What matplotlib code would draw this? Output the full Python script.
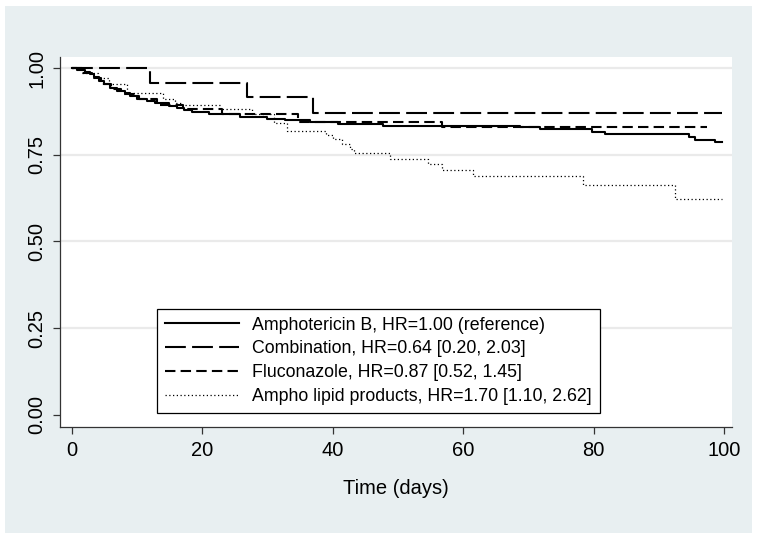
import matplotlib
matplotlib.use('Agg')
import matplotlib.pyplot as plt
from matplotlib.patches import Rectangle

# Kaplan-Meier step data (time in days, survival)
ampho_t = [0, 0.8, 2.0, 2.8, 3.3, 4.1, 4.9, 5.9, 6.9, 8.2, 8.9, 10.2, 11.5, 12.8,
           14.8, 16.1, 17.1, 18.4, 21.0, 25.8, 29.9, 32.7, 36.5, 40.8, 47.7, 68.7,
           71.8, 79.7, 81.7, 94.6, 95.5, 98.6, 99.6]
ampho_s = [1.0, 0.995, 0.990, 0.984, 0.975, 0.963, 0.954, 0.944, 0.934, 0.927, 0.919,
           0.911, 0.906, 0.898, 0.890, 0.885, 0.879, 0.872, 0.867, 0.860, 0.852, 0.849,
           0.845, 0.840, 0.833, 0.829, 0.824, 0.816, 0.810, 0.802, 0.794, 0.788, 0.788]

combo_t = [0, 12.0, 26.8, 36.9, 99.6]
combo_s = [1.0, 0.958, 0.917, 0.870, 0.870]

fluco_t = [0, 1.5, 3.0, 4.5, 6.0, 7.5, 10.0, 13.0, 17.0, 23.0, 34.7, 56.8, 97.3]
fluco_s = [1.0, 0.985, 0.970, 0.955, 0.940, 0.925, 0.910, 0.895, 0.881, 0.869,
           0.845, 0.831, 0.831]

lipid_t = [0, 1.5, 4.0, 5.6, 8.4, 14.0, 15.8, 16.8, 22.7, 27.6, 30.9, 32.9, 39.0,
           40.0, 41.4, 42.6, 43.2, 48.8, 54.6, 56.7, 61.5, 78.4, 92.5, 99.7]
lipid_s = [1.0, 0.985, 0.970, 0.955, 0.927, 0.912, 0.900, 0.893, 0.882, 0.869,
           0.843, 0.818, 0.807, 0.795, 0.780, 0.766, 0.754, 0.737, 0.722, 0.706,
           0.689, 0.663, 0.622, 0.622]

labels = ['Amphotericin B, HR=1.00 (reference)',
          'Combination, HR=0.64 [0.20, 2.03]',
          'Fluconazole, HR=0.87 [0.52, 1.45]',
          'Ampho lipid products, HR=1.70 [1.10, 2.62]']
xticks = [0, 20, 40, 60, 80, 100]
yticks = [0.0, 0.25, 0.5, 0.75, 1.0]

narrow = ['Liberation Sans Narrow', 'Liberation Sans', 'DejaVu Sans']
plt.rcParams['font.family'] = ['Liberation Sans', 'DejaVu Sans']

fig = plt.figure(figsize=(7.58, 5.39), dpi=100)
fig.patch.set_facecolor('white')
bg = Rectangle((5 / 758, 6 / 539), 747 / 758, 527 / 539,
               transform=fig.transFigure, facecolor='#e8eff1',
               edgecolor='none', zorder=-10)
fig.add_artist(bg)

ax = fig.add_axes([60 / 758, 1 - 427 / 539, 672 / 758, 370 / 539])
ax.set_facecolor('white')

for y in [0.25, 0.5, 0.75, 1.0]:
    ax.axhline(y, color='#eaeaea', lw=1.6, zorder=1)

ax.plot(ampho_t, ampho_s, drawstyle='steps-post', color='black', lw=1.5,
        label=labels[0], zorder=3)
ax.plot(combo_t, combo_s, drawstyle='steps-post', color='black', lw=1.5,
        dashes=(10, 3), label=labels[1], zorder=3)
ax.plot(fluco_t, fluco_s, drawstyle='steps-post', color='black', lw=1.5,
        dashes=(5, 2.5), label=labels[2], zorder=3)
ax.plot(lipid_t, lipid_s, drawstyle='steps-post', color='black', lw=0.9,
        dashes=(1, 2), label=labels[3], zorder=3)

ax.set_xlim(-1.84, 101.2)
ax.set_ylim(-0.035, 1.032)
ax.set_xticks(xticks)
ax.set_xticklabels([str(t) for t in xticks], family=narrow, fontsize=14.5)
ax.set_yticks(yticks)
ax.set_yticklabels(['%.2f' % t for t in yticks], family=narrow, fontsize=14.5,
                   rotation=90, va='center')
ax.tick_params(direction='out', length=5, width=0.9, color='#333333', pad=5)
for s in ['top', 'right']:
    ax.spines[s].set_visible(False)
for s in ['left', 'bottom']:
    ax.spines[s].set_color('#333333')
    ax.spines[s].set_linewidth(0.9)

ax.set_xlabel('Time (days)', family=narrow, fontsize=14.5, labelpad=14)

leg = ax.legend(loc='lower left', bbox_to_anchor=(0.144, 0.038), borderaxespad=0,
                fancybox=False, framealpha=1, edgecolor='black', fontsize=12.8,
                handlelength=4.2, handletextpad=0.7, labelspacing=0.38,
                borderpad=0.45)
leg.get_frame().set_linewidth(0.9)

fig.savefig('out.png', dpi=100)
